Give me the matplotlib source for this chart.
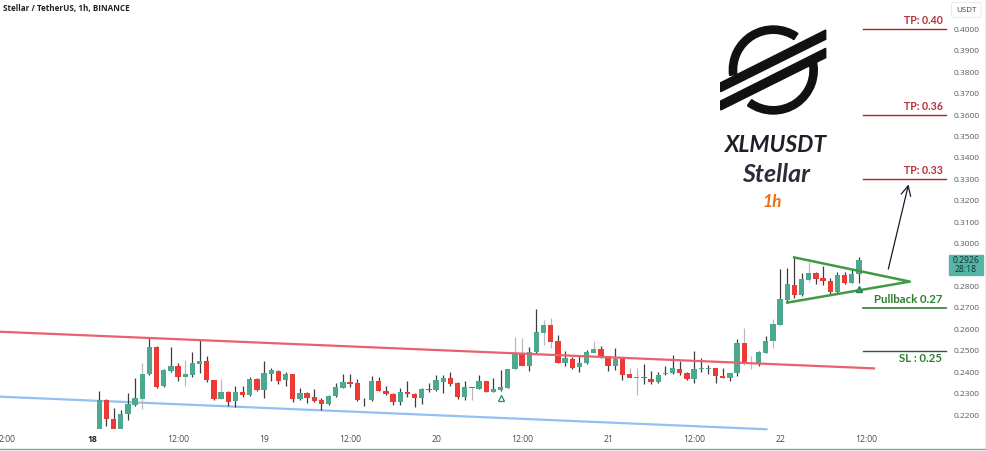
import matplotlib
matplotlib.use("Agg")
import matplotlib.pyplot as plt
from matplotlib.patches import Wedge, Polygon, Rectangle, FancyBboxPatch
from matplotlib.lines import Line2D

# Candle data (1h)
opens = [.2134,.2271,.2182,.2137,.2207,.2249,.2275,.2390,.2518,.2334,.2407,.2429,.2378,.2389,.2440,.2451,.2362,.2275,.2308,.2264,.2308,.2295,.2367,.2316,.2393,.2407,.2365,.2390,.2275,.2302,.2283,.2271,.2254,
         .2291,.2328,.2356,.2348,.2269,.2269,.2358,.2314,.2299,.2263,.2308,.2299,.2281,.2323,.2316,.2356,.2373,.2348,.2286,.2331,.2323,.2358,.2309,.2317,.2328,.2414,.2488,.2431,.2493,.2582,.2621,.2544,.2442,.2463,.2423,.2442,.2490,.2507,.2474,.2431,.2466,.2390,.2375,.2376,.2369,.2356,
         .2390,.2395,.2414,.2395,.2369,.2417,.2414,.2418,.2384,.2372,.2395,.2535,.2439,.2439,.2491,.2544,.2621,.2739,.2806,.2759,.2832,.2862,.2840,.2824,.2775,.2852,.2818,.2857]
highs = [.2314,.2274,.2232,.2224,.2305,.2372,.2442,.2563,.2523,.2414,.2516,.2445,.2457,.2493,.2551,.2476,.2364,.2367,.2314,.2337,.2337,.2379,.2372,.2454,.2418,.2411,.2403,.2392,.2325,.2306,.2320,.2278,.2294,
         .2348,.2390,.2392,.2367,.2281,.2383,.2376,.2337,.2302,.2325,.2359,.2302,.2325,.2348,.2387,.2387,.2401,.2353,.2359,.2333,.2387,.2359,.2372,.2411,.2417,.2563,.2561,.2516,.2695,.2644,.2652,.2575,.2499,.2473,.2476,.2504,.2547,.2522,.2476,.2513,.2468,.2418,.2418,.2437,.2404,.2403,
         .2429,.2481,.2454,.2403,.2501,.2465,.2434,.2422,.2418,.2398,.2557,.2605,.2476,.2498,.2569,.2647,.2880,.2885,.2936,.2862,.2916,.2866,.2896,.2838,.2869,.2869,.2880,.2939]
lows = [.2134,.2149,.2137,.2137,.2177,.2244,.2227,.2387,.2327,.2333,.2403,.2361,.2337,.2376,.2398,.2353,.2271,.2274,.2243,.2238,.2286,.2289,.2311,.2282,.2361,.2345,.2334,.2260,.2271,.2255,.2260,.2224,.2247,
        .2286,.2325,.2333,.2268,.2244,.2266,.2313,.2295,.2246,.2247,.2286,.2236,.2253,.2306,.2313,.2305,.2337,.2277,.2272,.2272,.2322,.2306,.2308,.2314,.2328,.2412,.2428,.2407,.2491,.2527,.2512,.2442,.2431,.2415,.2400,.2439,.2488,.2466,.2407,.2411,.2364,.2372,.2294,.2345,.2344,.2351,
        .2387,.2390,.2387,.2364,.2348,.2403,.2392,.2352,.2372,.2361,.2383,.2434,.2417,.2428,.2488,.2515,.2619,.2725,.2747,.2756,.2823,.2810,.2809,.2761,.2771,.2810,.2815,.2815]
closes = [.2269,.2184,.2137,.2205,.2250,.2278,.2390,.2518,.2331,.2411,.2431,.2378,.2390,.2442,.2451,.2362,.2275,.2309,.2263,.2309,.2294,.2367,.2316,.2395,.2409,.2361,.2390,.2277,.2302,.2282,.2266,.2252,.2291,
          .2330,.2356,.2345,.2269,.2271,.2358,.2314,.2299,.2263,.2309,.2299,.2281,.2320,.2317,.2362,.2373,.2347,.2286,.2333,.2325,.2358,.2309,.2322,.2333,.2415,.2488,.2431,.2495,.2586,.2622,.2543,.2443,.2465,.2421,.2442,.2495,.2507,.2470,.2431,.2463,.2387,.2373,.2376,.2372,.2356,.2389,
          .2395,.2418,.2397,.2369,.2414,.2420,.2418,.2384,.2375,.2395,.2535,.2439,.2445,.2493,.2546,.2624,.2740,.2810,.2759,.2834,.2862,.2837,.2827,.2775,.2852,.2818,.2858,.2925]
# Candles whose wicks are pale in the picture
pale_wicks = [6, 12, 17, 52, 58, 59, 62, 63, 69, 74, 75, 90, 91, 94, 99]

price_ticks = [.22,.23,.24,.25,.26,.27,.28,.30,.31,.32,.33,.34,.35,.36,.37,.38,.39,.40]
time_ticks = [-11.8, 0, 12, 24, 36, 48, 60, 72, 84, 96, 108]
time_labels = ["2:00","18","12:00","19","12:00","20","12:00","21","12:00","22","12:00"]

tp_levels = [.40, .36, .33]
tp_labels = ["TP: 0.40", "TP: 0.36", "TP: 0.33"]
green_levels = [.27, .25]
resist_h, resist_p = [-12.84, 109.1], [.2589, .2418]
support_h, support_p = [-12.84, 94.1], [.2286, .2134]
wedge_h, wedge_p = [97.95, 114.1, 97.0], [.2936, .2823, .2725]
arrow_h, arrow_p = [111.0, 114.0], [.2869, .3289]

W, H = 987, 451
GREEN, RED = "#4aa98f", "#ee3a36"
fig = plt.figure(figsize=(W/100, H/100), dpi=100, facecolor="white")
plt.rcParams["font.family"] = ["Open Sans", "DejaVu Sans"]

ax = fig.add_axes([0, (H-429)/H, 945/W, 429/H])
ax.set_xlim(-12.84, 119.0)
ax.set_ylim(.4137-429/2143, .4137)
for s in ax.spines.values():
    s.set_visible(False)

hours = [i+1 for i in range(len(opens))]
for i, h in enumerate(hours):
    up = closes[i] >= opens[i]
    ax.vlines(h, lows[i], highs[i], color="#b9b9b9" if i in pale_wicks else "#3d3d3d", lw=0.9, zorder=2)
    ax.bar(h, max(abs(closes[i]-opens[i]), .00025), bottom=min(opens[i], closes[i]), width=0.74,
           color=GREEN if up else RED, edgecolor="none", zorder=3)

ax.plot(resist_h, resist_p, color="#e9606e", lw=1.6, zorder=4, clip_on=False)
ax.plot(support_h, support_p, color="#94c0f5", lw=1.6, zorder=1, clip_on=False)
ax.plot(wedge_h, wedge_p, color="#3f9a43", lw=1.8, zorder=4, clip_on=False)
ax.annotate("", xy=(arrow_h[1], arrow_p[1]), xytext=(arrow_h[0], arrow_p[0]),
            arrowprops=dict(arrowstyle="->,head_width=0.35,head_length=0.7", color="#1a1a2a", lw=0.9), zorder=5)
ax.plot([56+1], [.2281], marker="^", ms=5, mfc="white", mec="#3b8f7d", mew=1, zorder=5)
ax.plot([106+1], [.2787], marker="^", ms=5, mfc="#3f9a6b", mec="#2f7d55", mew=1, zorder=5)

for lv in tp_levels:
    ax.plot([107.6, 119.1], [lv, lv], color="#b0202c", lw=1.0, clip_on=False, zorder=4)
ax.plot([107.6, 119.1], [green_levels[0]]*2, color="#2f7d32", lw=1.2, clip_on=False, zorder=4)
ax.plot([107.6, 119.1], [green_levels[1]]*2, color="#1f6423", lw=1.0, clip_on=False, zorder=4)

ax.set_yticks(price_ticks)
ax.set_yticklabels([f"{p:.4f}" for p in price_ticks], fontsize=6.0, color="#5a5a5a")
ax.yaxis.tick_right()
ax.tick_params(axis="y", length=0, pad=6.5)
ax.set_xticks(time_ticks)
ax.set_xticklabels(time_labels, fontsize=6.2, color="#4a4a4a")
ax.tick_params(axis="x", length=0, pad=4.5)
for t in ax.get_xticklabels():
    if t.get_text() == "18":
        t.set_fontweight("bold")
        t.set_color("#222222")

# Pixel overlay for annotations, logo and chart frame
ov = fig.add_axes([0, 0, 1, 1], zorder=5)
ov.set_xlim(0, W)
ov.set_ylim(H, 0)
ov.axis("off")
ov.patch.set_alpha(0)

ov.text(3, 9, "Stellar / TetherUS, 1h, BINANCE", fontsize=5.9, fontweight="bold", color="#222222", va="center")

LF = ["Lato", "DejaVu Sans"]
for y, s in zip([21, 107, 171], tp_labels):
    ov.text(942.7, y, s, family=LF, fontsize=7.6, fontweight="bold", color="#b5303a", ha="right", va="center")
ov.text(942, 299.3, "Pullback 0.27", family=LF, fontsize=8.2, fontweight="bold", color="#2f7d32", ha="right", va="center")
ov.text(942, 358.3, "SL : 0.25", family=LF, fontsize=8.2, fontweight="bold", color="#2f7d32", ha="right", va="center")

ov.text(776, 145, "XLMUSDT", family=LF, fontsize=16.5, fontweight="bold", style="italic", color="#1c2028", ha="center", va="center")
ov.text(776, 174, "Stellar", family=LF, fontsize=18, fontweight="bold", style="italic", color="#2a2e38", ha="center", va="center")
ov.text(772, 202, "1h", family=LF, fontsize=12.5, fontweight="bold", style="italic", color="#e8701a", ha="center", va="center")

# Stellar logo (y points down on this overlay, so angles mirror)
cx, cy, R = 773.3, 70, 44
ov.add_patch(Wedge((cx, cy), R, 173, 304, width=7.3, color="#111111"))
ov.add_patch(Wedge((cx, cy), R, -15, 126, width=7.3, color="#111111"))
ov.add_patch(Polygon([(720.7, 82.7), (825.7, 30), (825.7, 39.3), (720.7, 91.7)], color="#111111"))
ov.add_patch(Polygon([(720.7, 101), (825.7, 48.3), (825.7, 57.7), (720.7, 110)], color="#111111"))

# Last price tag
ov.add_patch(Rectangle((948.7, 254.7), 34, 20.6, color="#57b5a5"))
ov.text(965.7, 260.2, "0.2926", fontsize=6.2, color="#10302c", ha="center", va="center")
ov.text(965.7, 270, "28:18", fontsize=6.2, color="#10302c", ha="center", va="center")

# USDT unit box
ov.add_patch(FancyBboxPatch((952, 3), 28.5, 14, boxstyle="round,pad=0.5,rounding_size=2",
                            fc="white", ec="#ececec", lw=0.8))
ov.text(966.5, 10, "USDT", fontsize=5.8, color="#444444", ha="center", va="center")

# Frame at right and bottom
ov.add_line(Line2D([0, 985.5], [449, 449], color="#9a9a9a", lw=1.0))
ov.add_line(Line2D([985.5, 985.5], [0, 449], color="#9a9a9a", lw=1.0))

fig.savefig("out.png", dpi=100, facecolor="white")
